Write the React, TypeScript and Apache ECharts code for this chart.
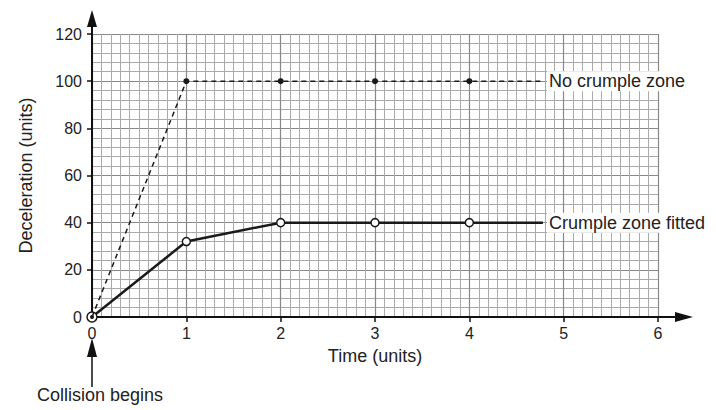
import React, { useEffect, useRef } from "react";
import * as echarts from "echarts";

const timeValues = [0, 1, 2, 3, 4, 4.78];
const noCrumple = [0, 100, 100, 100, 100, 100];
const crumpleFitted = [0, 32, 40, 40, 40, 40];
const seriesNames = ["Crumple zone fitted", "No crumple zone"];

const FONT = "Liberation Sans, Arial, sans-serif";
const GL = 92, GT = 34, GW = 566, GH = 283;

function buildData(vals: number[]) {
  return timeValues.map((t, i) => {
    const last = i === timeValues.length - 1;
    return {
      value: [t, vals[i]],
      symbol: last ? "none" : "circle",
    };
  });
}

export default function App() {
  const ref = useRef<HTMLDivElement>(null);
  useEffect(() => {
    if (!ref.current) return;
    const chart = echarts.init(ref.current, null, { renderer: "svg" });
    const endLabel = {
      show: true,
      formatter: "{a}",
      fontSize: 18,
      fontFamily: FONT,
      color: "#222",
      backgroundColor: "#fff",
      padding: [1, 2],
      distance: 4,
    };
    chart.setOption({
      animation: false,
      backgroundColor: "#fff",
      textStyle: { fontFamily: FONT },
      grid: { left: GL, top: GT, width: GW, height: GH, containLabel: false },
      xAxis: {
        type: "value",
        min: 0,
        max: 6,
        interval: 1,
        name: "Time (units)",
        nameLocation: "middle",
        nameGap: 30,
        nameTextStyle: { fontSize: 18, color: "#222", fontFamily: FONT },
        axisLine: { show: true, onZero: false, lineStyle: { color: "#111", width: 2 } },
        axisTick: { show: true, length: 5, lineStyle: { color: "#111", width: 1.5 } },
        axisLabel: { fontSize: 16, color: "#222", margin: 8, fontFamily: FONT },
        splitLine: { show: true, lineStyle: { color: "#888", width: 1.2 } },
        minorTick: { show: false, splitNumber: 10 },
        minorSplitLine: { show: true, lineStyle: { color: "#aaa", width: 1 } },
      },
      yAxis: {
        type: "value",
        min: 0,
        max: 120,
        interval: 20,
        name: "Deceleration (units)",
        nameLocation: "middle",
        nameGap: 57,
        nameTextStyle: { fontSize: 18, color: "#222", fontFamily: FONT },
        axisLine: { show: true, onZero: false, lineStyle: { color: "#111", width: 2 } },
        axisTick: { show: true, length: 5, lineStyle: { color: "#111", width: 1.5 } },
        axisLabel: { fontSize: 16, color: "#222", margin: 10, fontFamily: FONT },
        splitLine: { show: true, lineStyle: { color: "#888", width: 1.2 } },
        minorTick: { show: false, splitNumber: 5 },
        minorSplitLine: { show: true, lineStyle: { color: "#aaa", width: 1 } },
      },
      series: [
        {
          name: seriesNames[0],
          type: "line",
          data: buildData(crumpleFitted),
          symbolSize: (v: any, p: any) => (p && p.dataIndex === 0 ? 10 : 8),
          itemStyle: { color: "#fff", borderColor: "#1a1a1a", borderWidth: 1.5 },
          lineStyle: { color: "#1a1a1a", width: 2.5 },
          endLabel,
          z: 3,
        },
        {
          name: seriesNames[1],
          type: "line",
          data: buildData(noCrumple),
          symbolSize: (v: any, p: any) => (p && p.dataIndex === 0 ? 4 : 6),
          itemStyle: { color: "#1a1a1a", borderColor: "#1a1a1a", borderWidth: 0 },
          lineStyle: { color: "#1a1a1a", width: 1.5, type: [5, 4] },
          endLabel,
          z: 4,
        },
      ],
      graphic: [
        { type: "line", shape: { x1: GL, y1: GT, x2: GL, y2: 24 }, style: { stroke: "#111", lineWidth: 2 }, z: 10 },
        { type: "polygon", shape: { points: [[GL, 10], [GL - 5, 27], [GL + 5, 27]] }, style: { fill: "#111" }, z: 10 },
        { type: "line", shape: { x1: GL + GW, y1: GT + GH, x2: 678, y2: GT + GH }, style: { stroke: "#111", lineWidth: 2 }, z: 10 },
        { type: "polygon", shape: { points: [[693, GT + GH], [675, GT + GH - 5], [675, GT + GH + 5]] }, style: { fill: "#111" }, z: 10 },
        { type: "line", shape: { x1: GL, y1: 387, x2: GL, y2: 352 }, style: { stroke: "#111", lineWidth: 1.5 }, z: 10 },
        { type: "polygon", shape: { points: [[GL, 338], [GL - 5, 357], [GL + 5, 357]] }, style: { fill: "#111" }, z: 10 },
        {
          type: "text",
          x: 37,
          y: 395,
          style: { text: "Collision begins", font: `18px ${FONT}`, fill: "#222", verticalAlign: "middle", align: "left" },
          z: 10,
        },
      ],
    });
    return () => chart.dispose();
  }, []);
  return (
    <div
      ref={ref}
      style={{ position: "fixed", left: 0, top: 0, width: 716, height: 410, background: "#fff" }}
    />
  );
}
